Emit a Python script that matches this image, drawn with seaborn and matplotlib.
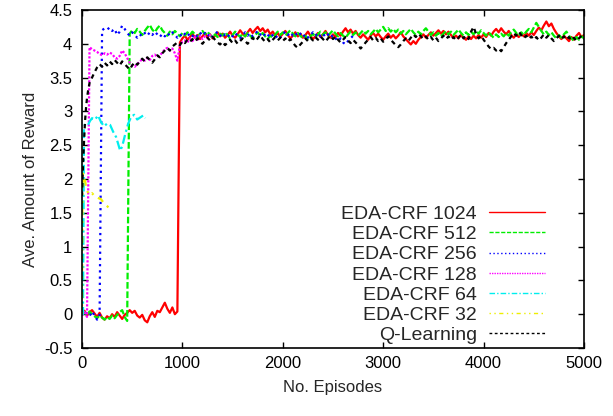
import numpy as np
import pandas as pd
import matplotlib
matplotlib.use("Agg")
import matplotlib.pyplot as plt
import seaborn as sns

# ---------------- data ----------------
grid_step = 25

red_episodes = list(range(0, 5001, grid_step))
red_values = [
    0.00, 0.05, -0.02, 0.03, 0.06, 0.01, -0.04, 0.02, -0.05, -0.08,
    -0.03, -0.06, 0.00, -0.04, 0.03, -0.02, -0.07, -0.01, 0.02, 0.06,
    0.02, 0.05, -0.02, -0.05, -0.01, -0.09, -0.12, -0.03, 0.03, -0.04,
    0.05, 0.03, 0.10, 0.17, 0.08, 0.02, 0.10, 0.00, 0.04,
    4.02, 4.08, 4.12, 4.06, 4.10, 4.15, 4.09, 4.13, 4.07, 4.11,
    4.16, 4.10, 4.14, 4.08, 4.12, 4.17, 4.11, 4.15, 4.09, 4.13,
    4.18, 4.12, 4.09, 4.14, 4.20, 4.15, 4.11, 4.17, 4.22, 4.16,
    4.21, 4.25, 4.19, 4.23, 4.17, 4.21, 4.14, 4.18, 4.12, 4.16,
    4.10, 4.15, 4.19, 4.13, 4.08, 4.12, 4.17, 4.11, 4.15, 4.09,
    4.13, 4.18, 4.12, 4.07, 4.11, 4.16, 4.10, 4.14, 4.19, 4.13,
    4.09, 4.14, 4.10, 4.16, 4.12, 4.18, 4.23, 4.17, 4.21, 4.15,
    4.19, 4.13, 4.09, 4.14, 4.10, 4.06, 4.12, 4.16, 4.11, 4.15,
    4.10, 4.06, 4.11, 4.15, 4.09, 4.13, 4.08, 4.12, 4.17, 4.11,
    4.07, 4.03, 3.99, 4.04, 4.00, 4.06, 4.10, 4.14, 4.09, 4.13,
    4.17, 4.12, 4.16, 4.20, 4.15, 4.19, 4.14, 4.18, 4.13, 4.09,
    4.12, 4.08, 4.13, 4.09, 4.06, 4.11, 4.07, 4.12, 4.08, 4.13,
    4.09, 4.14, 4.10, 4.16, 4.12, 4.18, 4.22, 4.17, 4.23, 4.18,
    4.14, 4.19, 4.13, 4.09, 4.14, 4.10, 4.15, 4.11, 4.16, 4.12,
    4.17, 4.13, 4.19, 4.24, 4.20, 4.27, 4.33, 4.26, 4.30, 4.22,
    4.16, 4.11, 4.07, 4.12, 4.08, 4.04, 4.10, 4.06, 4.12, 4.16,
    4.10, 4.13,
]

green_episodes = list(range(0, 5001, grid_step))
green_values = [
    0.00, 0.03, -0.02, 0.04, 0.00, -0.03, -0.06, -0.02, -0.05, -0.08,
    -0.04, -0.07, -0.02, -0.06, -0.01, 0.03, 0.06, -0.04, -0.10,
    4.15, 4.20, 4.16, 4.22, 4.18, 4.13, 4.19, 4.24, 4.28, 4.21,
    4.17, 4.23, 4.27, 4.20, 4.16, 4.12, 4.18, 4.14, 4.19, 4.15,
    4.11, 4.16, 4.12, 4.17, 4.13, 4.18, 4.14, 4.10, 4.15, 4.19,
    4.14, 4.18, 4.13, 4.09, 4.14, 4.10, 4.15, 4.12, 4.17, 4.13,
    4.08, 4.13, 4.18, 4.14, 4.10, 4.15, 4.11, 4.16, 4.12, 4.08,
    4.13, 4.17, 4.12, 4.16, 4.11, 4.07, 4.12, 4.09, 4.14, 4.18,
    4.13, 4.17, 4.12, 4.16, 4.20, 4.15, 4.11, 4.16, 4.12, 4.08,
    4.12, 4.07, 4.11, 4.15, 4.10, 4.14, 4.18, 4.13, 4.17, 4.12,
    4.16, 4.20, 4.15, 4.11, 4.16, 4.12, 4.09, 4.14, 4.18, 4.13,
    4.17, 4.12, 4.16, 4.20, 4.15, 4.19, 4.14, 4.18, 4.22, 4.17,
    4.21, 4.25, 4.19, 4.23, 4.18, 4.22, 4.17, 4.21, 4.15, 4.19,
    4.14, 4.18, 4.22, 4.17, 4.13, 4.18, 4.14, 4.19, 4.23, 4.18,
    4.13, 4.17, 4.12, 4.16, 4.11, 4.15, 4.19, 4.14, 4.18, 4.13,
    4.17, 4.21, 4.16, 4.12, 4.17, 4.13, 4.18, 4.14, 4.19, 4.15,
    4.20, 4.16, 4.12, 4.17, 4.13, 4.09, 4.14, 4.10, 4.15, 4.11,
    4.16, 4.12, 4.17, 4.21, 4.16, 4.12, 4.17, 4.13, 4.18, 4.22,
    4.17, 4.24, 4.31, 4.25, 4.19, 4.14, 4.18, 4.13, 4.17, 4.12,
    4.08, 4.13, 4.09, 4.14, 4.18, 4.12, 4.08, 4.04, 4.10, 4.06,
    4.11, 4.08,
]

blue_episodes = list(range(0, 2701, grid_step))
blue_values = [
    0.02, 0.06, 0.00, -0.03, 0.04, -0.02, -0.08, -0.04,
    4.20, 4.23, 4.21, 4.24, 4.19, 4.22, 4.13, 4.18, 4.27, 4.22,
    4.16, 4.12, 4.17, 4.13, 4.09, 4.14, 4.11, 4.16, 4.12, 4.17,
    4.13, 4.18, 4.14, 4.10, 4.15, 4.11, 4.16, 4.12, 4.17, 4.13,
    4.09, 4.14, 4.10, 4.15, 4.11, 4.16, 4.12, 4.08, 4.13, 4.17,
    4.12, 4.16, 4.11, 4.15, 4.10, 4.14, 4.18, 4.13, 4.09, 4.14,
    4.10, 4.15, 4.11, 4.16, 4.12, 4.08, 4.13, 4.17, 4.12, 4.16,
    4.11, 4.15, 4.19, 4.14, 4.10, 4.15, 4.11, 4.16, 4.12, 4.08,
    4.13, 4.09, 4.14, 4.18, 4.13, 4.17, 4.12, 4.16, 4.11, 4.15,
    4.10, 4.14, 4.09, 4.13, 4.17, 4.12, 4.16, 4.11, 4.15, 4.10,
    4.14, 4.09, 4.13, 4.08, 4.04, 4.08, 4.02, 3.99, 4.04, 4.08,
    4.12,
]

magenta_episodes = list(range(0, 1301, grid_step))
magenta_values = [
    -0.02, 0.03, -0.04,
    3.95, 3.92, 3.90, 3.88, 3.85, 3.83, 3.86, 3.84, 3.87, 3.85,
    3.80, 3.78, 3.82, 3.90, 3.86, 3.79, 3.72, 3.68, 3.66, 3.70,
    3.74, 3.77, 3.75, 3.79, 3.76, 3.82, 3.84, 3.80, 3.83, 3.87,
    3.92, 3.94, 3.90, 3.93, 3.86, 3.75, 3.98, 4.03, 4.05, 4.02,
    4.08, 4.04, 4.10, 4.06, 4.12, 4.07, 4.11, 4.08, 4.13, 4.09,
]

cyan_episodes = [0, 10, 20, 40, 60, 80, 100, 130, 160, 190, 220, 250, 280,
                 310, 340, 360, 380, 400, 430, 460, 490, 520, 550, 580, 610, 630]
cyan_values = [0.02, 0.00, 2.78, 2.82, 2.80, 2.86, 2.90, 2.88, 2.94, 2.84,
               2.78, 2.82, 2.80, 2.70, 2.62, 2.52, 2.42, 2.48, 2.66, 2.82,
               2.92, 2.95, 2.88, 2.91, 2.94, 2.90]

yellow_episodes = [0, 5, 10, 20, 30, 45, 60, 80, 100, 130, 160, 190, 220, 250, 280]
yellow_values = [0.00, 1.95, 2.08, 1.92, 1.98, 1.84, 1.80, 1.76, 1.79, 1.74,
                 1.72, 1.70, 1.64, 1.60, 1.55]

black_episodes = [0, 10, 20, 30, 40, 50, 60, 75] + list(range(100, 5001, grid_step))
black_values = [
    1.75, 2.20, 2.55, 2.85, 3.05, 3.20, 3.30, 3.42,
    3.50, 3.58, 3.65, 3.70, 3.66, 3.72, 3.68, 3.74, 3.70, 3.76,
    3.72, 3.68, 3.74, 3.70, 3.66, 3.62, 3.68, 3.73, 3.69, 3.74,
    3.78, 3.74, 3.80, 3.76, 3.72, 3.77, 3.83, 3.80, 3.86, 3.90,
    3.94, 3.90, 3.96, 3.99, 4.02, 3.98, 4.04, 4.01, 4.06, 4.03,
    4.07, 4.03, 4.08, 4.04, 4.00, 4.05, 4.09, 4.05, 4.10, 4.06,
    4.02, 3.99, 4.03, 3.98, 4.02, 4.06, 4.01, 4.05, 4.00, 4.04,
    4.08, 4.04, 4.00, 4.05, 4.09, 4.04, 4.08, 4.13, 4.07, 4.03,
    4.07, 4.02, 4.06, 4.10, 4.05, 4.09, 4.04, 4.08, 4.03, 4.07,
    4.02, 3.97, 3.94, 3.99, 4.03, 4.08, 4.04, 4.09, 4.05, 4.10,
    4.06, 4.11, 4.07, 4.03, 4.08, 4.12, 4.07, 4.11, 4.06, 4.02,
    4.06, 4.10, 4.05, 4.01, 4.06, 4.02, 3.98, 3.93, 3.97, 4.02,
    4.06, 4.10, 4.05, 4.09, 4.04, 4.08, 4.03, 4.07, 4.11, 4.06,
    4.02, 3.98, 3.95, 3.99, 4.04, 4.08, 4.04, 4.09, 4.14, 4.10,
    4.15, 4.11, 4.07, 4.11, 4.06, 4.10, 4.05, 4.09, 4.04, 4.08,
    4.12, 4.07, 4.11, 4.06, 4.10, 4.05, 4.09, 4.14, 4.08, 4.12,
    4.07, 4.18, 4.25, 4.15, 4.08, 4.12, 4.06, 4.01, 3.96, 3.92,
    3.94, 3.90, 3.93, 3.89, 3.95, 4.01, 4.06, 4.11, 4.16, 4.12,
    4.18, 4.13, 4.08, 4.12, 4.07, 4.11, 4.06, 4.10, 4.05, 4.09,
    4.14, 4.09, 4.13, 4.08, 4.04, 4.08, 4.12, 4.07, 4.11, 4.06,
    4.10, 4.05, 4.09, 4.04, 4.08, 4.12, 4.07,
]

series_labels = ["EDA-CRF 1024", "EDA-CRF 512", "EDA-CRF 256", "EDA-CRF 128",
                 "EDA-CRF 64", "EDA-CRF 32", "Q-Learning"]
x_ticks = [0, 1000, 2000, 3000, 4000, 5000]
y_ticks = [-0.5, 0, 0.5, 1, 1.5, 2, 2.5, 3, 3.5, 4, 4.5]
x_tick_labels = ["0", "1000", "2000", "3000", "4000", "5000"]
y_tick_labels = ["-0.5", "0", "0.5", "1", "1.5", "2", "2.5", "3", "3.5", "4", "4.5"]

# ---------------- styling ----------------
sns.set_theme(style="ticks")
plt.rcParams["font.family"] = ["Liberation Sans", "DejaVu Sans"]
plt.rcParams["axes.linewidth"] = 1.2

series = [
    (red_episodes, red_values, "#ff0000", "-"),
    (green_episodes, green_values, "#00ee00", (0, (3.0, 1.2))),
    (blue_episodes, blue_values, "#0000ff", (0, (1.0, 1.8))),
    (magenta_episodes, magenta_values, "#ff00ff", (0, (1.0, 0.8))),
    (cyan_episodes, cyan_values, "#00eeee", (0, (4.0, 1.5, 1.0, 1.5))),
    (yellow_episodes, yellow_values, "#eeee00", (0, (1.0, 2.5, 1.0, 2.5, 3.0, 2.5))),
    (black_episodes, black_values, "#000000", (0, (2.0, 1.8))),
]

fig = plt.figure(figsize=(6.13, 4.16), dpi=100)
ax = fig.add_axes([82 / 613, 68 / 416, 502 / 613, 338 / 416])

for (xs, ys, col, ls), lab in zip(series, series_labels):
    df = pd.DataFrame({"episode": xs, "reward": ys})
    sns.lineplot(data=df, x="episode", y="reward", ax=ax, color=col,
                 linestyle=ls, linewidth=1.6, label=lab, sort=False,
                 estimator=None)

ax.set_xlim(0, 5000)
ax.set_ylim(-0.5, 4.5)
ax.set_xticks(x_ticks)
ax.set_xticklabels(x_tick_labels)
ax.set_yticks(y_ticks)
ax.set_yticklabels(y_tick_labels)
ax.tick_params(direction="in", length=4.5, width=1.0, top=True, right=True,
               labelsize=12, colors="black", pad=6)
ax.tick_params(axis="y", pad=7)
for sp in ax.spines.values():
    sp.set_visible(True)
    sp.set_color("black")
    sp.set_linewidth(1.2)

ax.set_xlabel("No. Episodes", fontsize=12, labelpad=6)
ax.set_ylabel("Ave. Amount of Reward", fontsize=12, labelpad=4)

leg = ax.legend(loc="lower right", bbox_to_anchor=(0.922, 0.012),
                markerfirst=False, frameon=False, fontsize=14,
                handlelength=2.85, handletextpad=0.65, labelspacing=0.13,
                borderpad=0, borderaxespad=0)
for h in leg.get_lines():
    h.set_linewidth(1.0)

fig.savefig("out.png", dpi=100)
